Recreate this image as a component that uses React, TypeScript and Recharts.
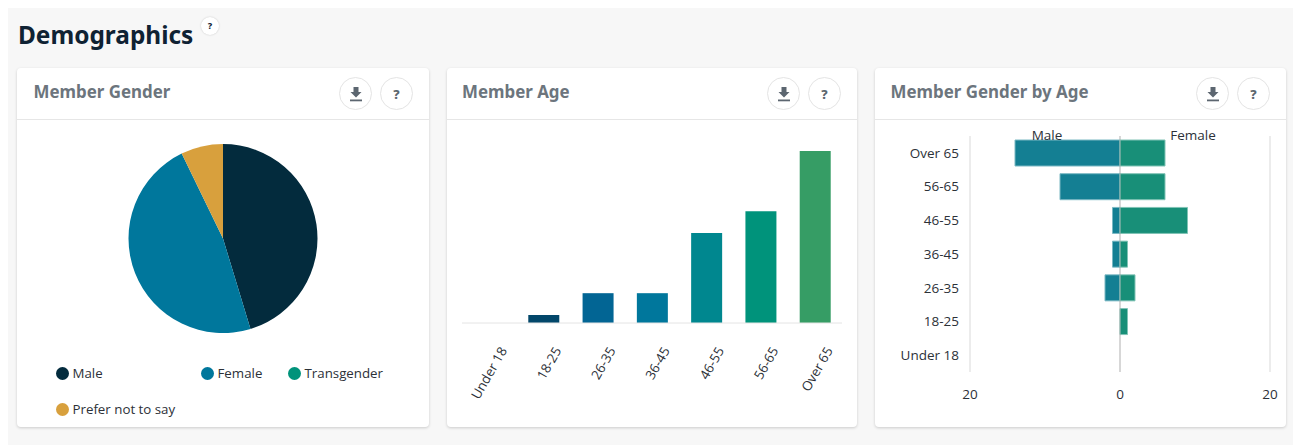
import React from 'react';
import { PieChart, Pie, Cell, Legend, BarChart, Bar, XAxis, YAxis, CartesianGrid, ReferenceLine } from 'recharts';

const genderNames = ['Male', 'Female', 'Transgender', 'Prefer not to say'];
const genderValues = [45.3, 47.5, 0, 7.2];
const genderColors = ['#032b3d', '#00779c', '#00937b', '#d8a03d'];

const ageNames = ['Under 18', '18-25', '26-35', '36-45', '46-55', '56-65', 'Over 65'];
const ageValues = [0, 1.4, 5.2, 5.2, 15.7, 19.5, 30];
const ageColors = ['#032b3d', '#02476a', '#026594', '#00779c', '#00878f', '#00937b', '#369d65'];

const pyramidNames = ['Over 65', '56-65', '46-55', '36-45', '26-35', '18-25', 'Under 18'];
const pyramidMale = [14, 8, 1, 1, 2, 0, 0];
const pyramidFemale = [6, 6, 9, 1, 2, 1, 0];
const pyramidTicks = [-20, 0, 20];

const titles = ['Member Gender', 'Member Age', 'Member Gender by Age'];

const genderData = genderNames.map((name, i) => ({ name, value: genderValues[i] }));
const ageData = ageNames.map((name, i) => ({ name, value: ageValues[i] }));
const pyramidData = pyramidNames.map((name, i) => ({ name, male: -pyramidMale[i], female: pyramidFemale[i] }));

const LABEL_FONT = '"Open Sans", sans-serif';
const HEAD_FONT = '"Noto Sans", sans-serif';
const cardLefts = [17, 447, 875];
const cardWidths = [412, 410, 411];
const titleLefts = [16.500, 15, 15.500];

function RoundButton({ left, children }: { left: number; children: React.ReactNode }) {
  return (
    <div style={{ position: 'absolute', left, top: 9, width: 31, height: 31, borderRadius: '50%', border: '1px solid #e4e4e4', background: '#fff', display: 'flex', alignItems: 'center', justifyContent: 'center', fontFamily: HEAD_FONT, fontWeight: 800, fontSize: 13, color: '#5c6670' }}>
      {children}
    </div>
  );
}

function DownloadIcon() {
  return (
    <svg width="14" height="16" viewBox="0 0 14 16">
      <path d="M4.5 1h5v5h3L7 11.5 1.500 6h3z" fill="#5c6670" />
      <rect x="1" y="13.500" width="12" height="1.800" fill="#5c6670" />
    </svg>
  );
}

function Card({ index, children }: { index: number; children: React.ReactNode }) {
  return (
    <div style={{ position: 'absolute', left: cardLefts[index], top: 68, width: cardWidths[index], height: 359, background: '#fff', borderRadius: 4, boxShadow: '0 1px 3px rgba(0,0,0,0.18)' }}>
      <div style={{ position: 'absolute', left: 0, right: 0, top: 0, height: 51, borderBottom: '1px solid #e6e6e6' }}>
        <div style={{ position: 'absolute', left: titleLefts[index], top: 11, fontFamily: HEAD_FONT, fontWeight: 700, fontSize: 16.900, lineHeight: '26px', color: '#6c757d', whiteSpace: 'nowrap' }}>{titles[index]}</div>
        <RoundButton left={cardWidths[index] - 90}><DownloadIcon /></RoundButton>
        <RoundButton left={cardWidths[index] - 49}>?</RoundButton>
      </div>
      {children}
    </div>
  );
}

const legendLefts = [38.500, 183.500, 270.500, 38.500];
const legendTops = [0, 0, 0, 36];

function GenderLegend({ payload }: any) {
  return (
    <div style={{ position: 'relative', width: 412, height: 60 }}>
      {(payload || []).map((p: any, i: number) => (
        <div key={p.value} style={{ position: 'absolute', left: legendLefts[i], top: legendTops[i], display: 'flex', alignItems: 'center', whiteSpace: 'nowrap', fontFamily: LABEL_FONT, fontSize: 13.300, lineHeight: '20px', color: '#2c3138' }}>
          <span style={{ display: 'inline-block', width: 13, height: 13, borderRadius: '50%', background: p.color, marginRight: 4 }} />
          {p.value}
        </div>
      ))}
    </div>
  );
}

function AgeTick({ x, y, payload }: any) {
  return (
    <text transform={`translate(${x + 14},${y + 17}) rotate(-60)`} textAnchor="end" dominantBaseline="central" fontFamily={LABEL_FONT} fontSize={13.300} fill="#2c3138">
      {payload.value}
    </text>
  );
}

export default function App() {
  const tickStyle = { fontFamily: LABEL_FONT, fontSize: 13.500, fill: '#2c3138' };
  return (
    <div style={{ position: 'absolute', left: 0, top: 0, width: 1293, height: 445, overflow: 'hidden', background: '#fff' }}>
      <div style={{ position: 'absolute', left: 8, top: 8, width: 1285, height: 437, background: '#f7f7f7' }} />
      <div style={{ position: 'absolute', left: 18, top: 18, fontFamily: HEAD_FONT, fontWeight: 700, fontSize: 24.400, lineHeight: '34px', color: '#0f2233', whiteSpace: 'nowrap' }}>Demographics</div>
      <div style={{ position: 'absolute', left: 201, top: 17, width: 18, height: 18, borderRadius: '50%', background: '#fff', boxShadow: '0 0 2px rgba(0,0,0,0.2)', textAlign: 'center', fontFamily: HEAD_FONT, fontWeight: 800, fontSize: 9, lineHeight: '18px', color: '#0f2233' }}>?</div>

      <Card index={0}>
        <div style={{ position: 'absolute', left: 0, top: 52 }}>
          <PieChart width={412} height={306} margin={{ top: 0, right: 0, bottom: 0, left: 0 }}>
            <Pie data={genderData} dataKey="value" nameKey="name" cx={206} cy={118.500} outerRadius={94.500} startAngle={90} endAngle={-270} stroke="none" isAnimationActive={false}>
              {genderData.map((d, i) => <Cell key={d.name} fill={genderColors[i]} />)}
            </Pie>
            <Legend content={<GenderLegend />} itemSorter={null} layout="horizontal" verticalAlign="bottom" wrapperStyle={{ left: 0, top: 243, bottom: 'auto', width: 412 }} />
          </PieChart>
        </div>
      </Card>

      <Card index={1}>
        <div style={{ position: 'absolute', left: 0, top: 52 }}>
          <BarChart width={410} height={306} data={ageData} margin={{ top: 31, right: 15, bottom: 0, left: 15 }} barCategoryGap="0%">
            <XAxis dataKey="name" interval={0} axisLine={{ stroke: '#e4e4e4' }} tickLine={false} tick={<AgeTick />} height={103} />
            <YAxis hide domain={[0, 30]} />
            <Bar dataKey="value" barSize={31} isAnimationActive={false}>
              {ageData.map((d, i) => <Cell key={d.name} fill={ageColors[i]} />)}
            </Bar>
          </BarChart>
        </div>
      </Card>

      <Card index={2}>
        <div style={{ position: 'absolute', left: 0, top: 52 }}>
          <BarChart width={411} height={306} data={pyramidData} layout="vertical" stackOffset="sign" margin={{ top: 16, right: 16, bottom: 0, left: 0 }} barCategoryGap={4}>
            <CartesianGrid horizontal={false} vertical stroke="#ececec" strokeWidth={2} />
            <XAxis type="number" domain={[-20, 20]} ticks={pyramidTicks} tickFormatter={(v: number) => String(Math.abs(v))} axisLine={false} tickLine={false} tick={tickStyle} tickMargin={11} height={54} />
            <YAxis type="category" dataKey="name" width={95} interval={0} axisLine={false} tickLine={false} tick={tickStyle} tickMargin={5} />
            <ReferenceLine x={-10} stroke="none" label={{ value: 'Male', position: 'insideTop', offset: -6, dx: 2, style: tickStyle }} />
            <ReferenceLine x={10} stroke="none" label={{ value: 'Female', position: 'insideTop', offset: -6, dx: -2, style: tickStyle }} />
            <Bar dataKey="male" stackId="a" barSize={26} fill="#147f93" stroke="#7ab8c3" isAnimationActive={false} />
            <Bar dataKey="female" stackId="a" barSize={26} fill="#188f78" stroke="#80c3b5" isAnimationActive={false} />
            <ReferenceLine x={0} stroke="#a8a8a8" strokeOpacity={0.6} />
          </BarChart>
        </div>
      </Card>
    </div>
  );
}
